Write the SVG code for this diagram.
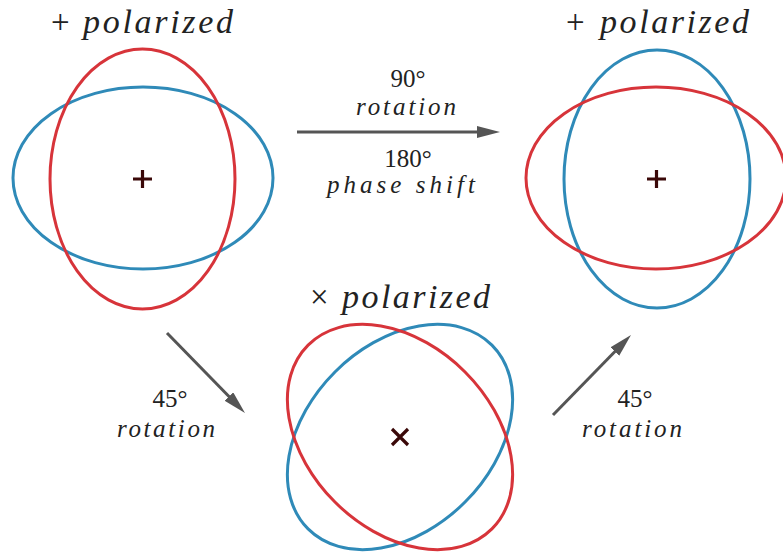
<svg xmlns="http://www.w3.org/2000/svg" width="783" height="552" viewBox="0 0 783 552" font-family="Liberation Serif">
<style>
.red{fill:none;stroke:#d7343a;stroke-width:3}
.blue{fill:none;stroke:#2f8ab8;stroke-width:3}
.mark{fill:none;stroke:#3a0808;stroke-width:3.2}
.arr{stroke:#555;stroke-width:3;fill:none}
</style>
<defs>
<marker id="ah" markerUnits="userSpaceOnUse" markerWidth="24" markerHeight="14" refX="13" refY="6" orient="auto">
<path d="M0,0 L23,6 L0,12 Z" fill="#555"/>
</marker>
</defs>
<g id="node-plus-left">
<ellipse class="blue" cx="143" cy="178" rx="130" ry="91"/>
<ellipse class="red" cx="142.5" cy="179" rx="92.5" ry="130"/>
<path class="mark" d="M133,179 H152 M142.5,170 V188"/>
<text x="51" y="33" font-family="Liberation Serif" font-size="33" fill="#222">+</text>
<text x="83" y="33" font-family="Liberation Serif" font-size="34" font-style="italic" fill="#222" textLength="150" lengthAdjust="spacing">polarized</text>
</g>
<g id="node-plus-right">
<ellipse class="blue" cx="657" cy="179" rx="93" ry="129"/>
<ellipse class="red" cx="656" cy="178" rx="130" ry="91"/>
<path class="mark" d="M647,179 H666 M656.5,170 V188"/>
<text x="566" y="33" font-family="Liberation Serif" font-size="33" fill="#222">+</text>
<text x="600" y="33" font-family="Liberation Serif" font-size="34" font-style="italic" fill="#222" textLength="149" lengthAdjust="spacing">polarized</text>
</g>
<g id="node-cross">
<ellipse class="blue" cx="0" cy="0" rx="130" ry="92" transform="translate(400,437) rotate(-45)"/>
<ellipse class="red" cx="0" cy="0" rx="130" ry="92" transform="translate(400,437) rotate(45)"/>
<path class="mark" d="M392,429 L408,445 M408,429 L392,445"/>
<text x="310" y="308" font-family="Liberation Serif" font-size="33" fill="#222">×</text>
<text x="342" y="308" font-family="Liberation Serif" font-size="34" font-style="italic" fill="#222" textLength="148" lengthAdjust="spacing">polarized</text>
</g>
<g id="connectors">
<line class="arr" x1="297" y1="132" x2="490" y2="132" marker-end="url(#ah)"/>
<line class="arr" x1="167" y1="333" x2="238" y2="405.8" marker-end="url(#ah)"/>
<line class="arr" x1="553" y1="415" x2="624" y2="342.2" marker-end="url(#ah)"/>
<text x="408" y="87" text-anchor="middle" font-family="Liberation Serif" font-size="25" fill="#222">90°</text>
<text x="356" y="115" font-family="Liberation Serif" font-size="25" font-style="italic" fill="#222" textLength="100" lengthAdjust="spacing">rotation</text>
<text x="408" y="167" text-anchor="middle" font-family="Liberation Serif" font-size="25" fill="#222">180°</text>
<text x="327" y="193" font-family="Liberation Serif" font-size="25" font-style="italic" fill="#222" textLength="148" lengthAdjust="spacing">phase shift</text>
<text x="170" y="407" text-anchor="middle" font-family="Liberation Serif" font-size="25" fill="#222">45°</text>
<text x="117" y="437" font-family="Liberation Serif" font-size="25" font-style="italic" fill="#222" textLength="98" lengthAdjust="spacing">rotation</text>
<text x="635" y="407" text-anchor="middle" font-family="Liberation Serif" font-size="25" fill="#222">45°</text>
<text x="582" y="437" font-family="Liberation Serif" font-size="25" font-style="italic" fill="#222" textLength="100" lengthAdjust="spacing">rotation</text>
</g>
</svg>
